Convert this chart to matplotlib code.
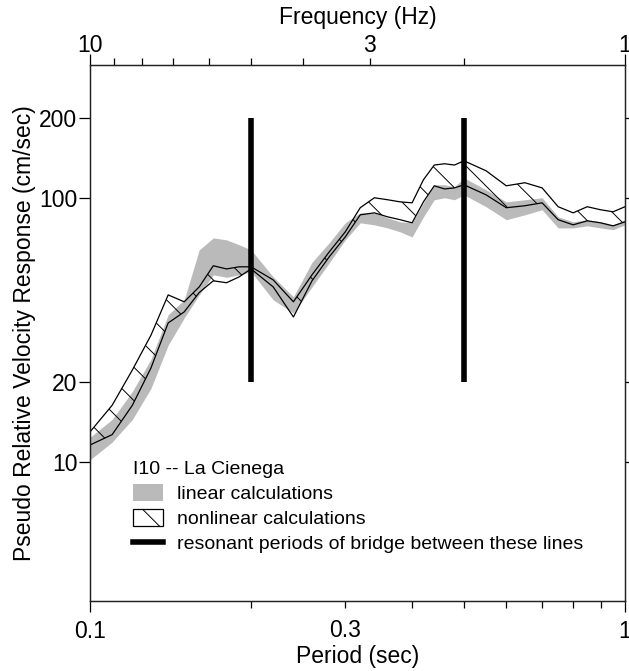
import matplotlib
matplotlib.use("Agg")
import matplotlib.pyplot as plt
from matplotlib.patches import Patch
from matplotlib.lines import Line2D
from matplotlib.ticker import FixedLocator, FixedFormatter, NullFormatter

plt.rcParams["font.family"] = ["Liberation Sans", "DejaVu Sans"]
plt.rcParams["hatch.linewidth"] = 0.7

# periods (sec) at which both spectra are sampled
periods = [0.10, 0.11, 0.12, 0.13, 0.14, 0.15, 0.16, 0.17, 0.18, 0.19, 0.20,
           0.22, 0.24, 0.26, 0.28, 0.30, 0.32, 0.34, 0.36, 0.38, 0.40, 0.42,
           0.44, 0.46, 0.48, 0.50, 0.55, 0.60, 0.65, 0.70, 0.75, 0.80, 0.85,
           0.90, 0.95, 1.00]

# linear calculations (grey band), cm/sec
lin_upper = [12.4, 14.5, 18.5, 24.5, 36.1, 41.1, 63.5, 70.5, 69.3, 66.4, 63.5,
             50.2, 42.2, 57.0, 67.6, 80.4, 87.7, 87.7, 84.0, 81.1, 80.4, 95.7,
             112, 112, 110, 119, 107.2, 96.5, 98.3, 100, 84.7, 81.1, 82.6,
             81.1, 79.0, 82.6]
lin_lower = [10.2, 11.9, 14.5, 19.0, 27.7, 35.1, 42.9, 51.1, 50.0, 51.1, 52.5,
             41.1, 36.6, 46.0, 56.7, 69.3, 80.4, 79.0, 76.9, 74.3, 71.1, 84.7,
             98.3, 100, 98.3, 102.6, 92.5, 82.6, 86.2, 90.1, 76.9, 76.9, 78.3,
             76.9, 75.7, 79.0]

# nonlinear calculations (hatched band), cm/sec
nl_upper = [13.0, 16.4, 22.3, 30.2, 42.9, 40.4, 46.0, 55.3, 53.8, 54.8, 54.8,
            48.9, 40.4, 51.1, 62.4, 74.3, 91.7, 100, 98.3, 96.5, 95.7, 117,
            133, 134.5, 133, 138, 126.5, 111, 114, 109, 92.5, 87.7, 92.5,
            90.1, 88.5, 92.5]
nl_lower = [11.6, 12.7, 16.4, 22.7, 33.6, 37.0, 43.8, 48.5, 47.7, 50.2, 53.8,
            46.0, 35.4, 48.5, 59.8, 71.1, 86.2, 87.7, 84.7, 82.6, 80.4, 96.5,
            111, 108, 109, 112, 102.6, 91.7, 93.3, 95.7, 82.6, 79.0, 81.8,
            80.4, 78.3, 81.1]

# resonant period limits of the bridge
resonant = [0.2, 0.5]
resonant_range = (20, 200)

GREY = "#bababa"
FS = 16.5

fig = plt.figure(figsize=(6.29, 6.71), dpi=100)
ax = fig.add_axes([90 / 629, 70 / 671, 535 / 629, 536 / 671])
ax.set_xscale("log")
ax.set_yscale("log")

ax.fill_between(periods, lin_lower, lin_upper, color=GREY, lw=0, zorder=1)
ax.fill_between(periods, nl_lower, nl_upper, facecolor="none",
                edgecolor="black", hatch="\\", lw=0, zorder=2)
ax.plot(periods, nl_upper, color="black", lw=0.9, zorder=3)
ax.plot(periods, nl_lower, color="black", lw=0.9, zorder=3)
ax.vlines(resonant, *resonant_range, colors="black", lw=4, zorder=4)

ax.set_xlim(0.1, 1.0)
ax.set_ylim(2.98, 318)

# bottom axis: period
ax.xaxis.set_major_locator(FixedLocator([0.1, 1.0]))
ax.xaxis.set_major_formatter(FixedFormatter(["0.1", "1"]))
minor_x = [0.2, 0.3, 0.4, 0.5, 0.6, 0.7, 0.8, 0.9]
ax.xaxis.set_minor_locator(FixedLocator(minor_x))
ax.xaxis.set_minor_formatter(FixedFormatter(["", "0.3", "", "", "", "", "", ""]))
ax.tick_params(axis="x", which="major", direction="out", length=8, width=0.9,
               labelsize=FS, pad=6)
ax.tick_params(axis="x", which="minor", direction="out", length=5, width=0.9,
               labelsize=FS, pad=8)

# left/right axis: velocity
ax.yaxis.set_major_locator(FixedLocator([10, 20, 100, 200]))
ax.yaxis.set_major_formatter(FixedFormatter(["10", "20", "100", "200"]))
ax.yaxis.set_minor_locator(FixedLocator([]))
ax.yaxis.set_minor_formatter(NullFormatter())
ax.tick_params(axis="y", which="major", direction="out", length=8, width=0.9,
               labelsize=FS, pad=1, right=True)

ax.set_xlabel("Period (sec)", fontsize=FS, labelpad=1)
ax.set_ylabel("Pseudo Relative Velocity Response (cm/sec)", fontsize=FS,
              labelpad=2)

# top axis: frequency
top = ax.twiny()
top.set_xscale("log")
top.set_xlim(10, 1)
top.xaxis.set_major_locator(FixedLocator([10, 1]))
top.xaxis.set_major_formatter(FixedFormatter(["10", "1"]))
top.xaxis.set_minor_locator(FixedLocator([9, 8, 7, 6, 5, 4, 3, 2]))
top.xaxis.set_minor_formatter(FixedFormatter(["", "", "", "", "", "", "3", ""]))
top.tick_params(axis="x", which="major", direction="out", length=8, width=0.9,
                labelsize=FS, pad=-2)
top.tick_params(axis="x", which="minor", direction="out", length=5, width=0.9,
                labelsize=FS, pad=1)
top.set_xlabel("Frequency (Hz)", fontsize=FS, labelpad=7)

for a in (ax, top):
    for s in a.spines.values():
        s.set_linewidth(0.9)
        s.set_color("#222222")

handles = [
    Patch(facecolor=GREY, edgecolor="none"),
    Patch(facecolor="white", edgecolor="black", hatch="\\", lw=0.9),
    Line2D([0], [0], color="black", lw=4),
]
labels = ["linear calculations", "nonlinear calculations",
          "resonant periods of bridge between these lines"]
leg = ax.legend(handles, labels, title="I10 -- La Cienega", loc="upper left",
                bbox_to_anchor=(0.08, 0.262), frameon=False, fontsize=14,
                title_fontsize=14, handlelength=1.55, handleheight=0.95,
                handletextpad=0.7, labelspacing=0.32, borderpad=0,
                borderaxespad=0, alignment="left")

fig.savefig("out.png", dpi=100)
